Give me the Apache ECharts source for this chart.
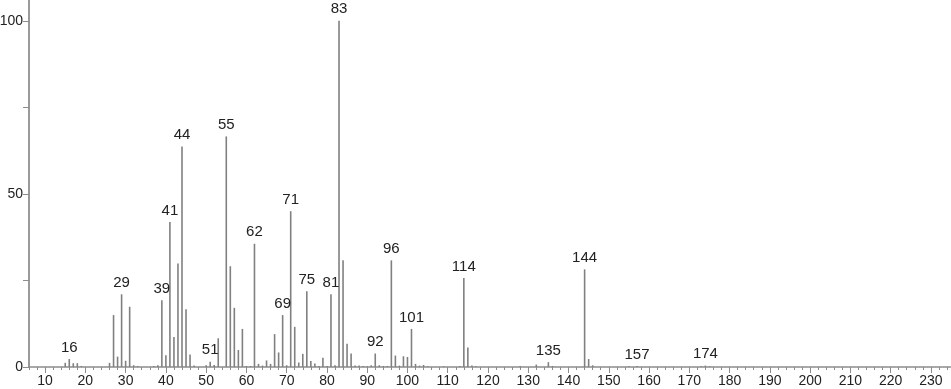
<!DOCTYPE html>
<html>
<head>
<meta charset="utf-8">
<script src="https://cdn.jsdelivr.net/npm/echarts@6/dist/echarts.min.js"></script>
<style>
html,body{margin:0;padding:0;background:#fff;}
#chart{width:951px;height:389px;}
</style>
</head>
<body>
<div id="chart"></div>
<script>
const mzValues = [15,16,17,18,19,26,27,28,29,30,31,32,33,37,38,39,40,41,42,43,44,45,46,47,50,51,52,53,55,56,57,58,59,60,61,62,63,64,65,66,67,68,69,70,71,72,73,74,75,76,77,78,79,80,81,82,83,84,85,86,87,88,89,90,91,92,93,94,95,96,97,98,99,100,101,102,103,104,105,109,113,114,115,116,117,128,132,135,136,144,145,146,155,157,173,174,175];
const intensities = [1.2,2.3,1.1,1.1,0.3,1.2,15.0,3.0,21.0,1.8,17.4,0.5,0.3,0.3,0.5,19.3,3.4,41.9,8.7,29.9,63.7,16.7,3.6,0.4,0.5,1.5,0.6,8.3,66.6,29.1,17.1,4.9,11.0,0.3,0.3,35.6,0.9,0.4,1.9,0.9,9.5,4.2,15.0,0.5,45.0,11.6,1.3,3.8,21.9,1.7,1.0,0.3,2.7,0.3,21.0,0.5,100,30.8,6.7,3.9,0.4,0.4,0.3,0.2,0.5,3.9,0.5,0.3,0.3,30.8,3.3,0.4,3.1,2.9,11.0,0.9,0.4,0.6,0.2,0.2,0.3,25.7,5.6,0.4,0.2,0.3,0.7,1.4,0.3,28.2,2.3,0.5,0.2,0.3,0.2,0.4,0.2];
const labeledPeaks = [16,29,39,41,44,51,55,62,69,71,75,81,83,92,96,101,114,135,144,157,174];
const xMajorTicks = [10,20,30,40,50,60,70,80,90,100,110,120,130,140,150,160,170,180,190,200,210,220,230];
const yTicks = [0,25,50,75,100];
const yLabels = [0,50,100];

const xMinorTicks = [];
for (let v = 6; v <= 234; v += 2) xMinorTicks.push(v);

const FONT = 'Liberation Sans';
const seriesData = mzValues.map((m, i) => ({
  value: [m, intensities[i]],
  label: { show: labeledPeaks.indexOf(m) >= 0 }
}));

const chart = echarts.init(document.getElementById('chart'), null, {renderer: 'canvas'});
chart.setOption({
  animation: false,
  backgroundColor: '#ffffff',
  grid: { left: 29, right: 0, top: 0, bottom: 22, containLabel: false, outerBoundsMode: 'none' },
  xAxis: [{
    type: 'value', min: 6, max: 235, position: 'bottom',
    axisLine: { show: true, onZero: false, lineStyle: { color: '#8c8c8c', width: 1.5 } },
    axisTick: { show: true, customValues: xMinorTicks, length: 3, lineStyle: { color: '#8c8c8c', width: 1 } },
    axisLabel: { show: false },
    splitLine: { show: false }
  }, {
    type: 'value', min: 6, max: 235, position: 'bottom', offset: 0,
    axisLine: { show: false },
    axisTick: { show: true, customValues: xMajorTicks, length: 6, lineStyle: { color: '#8c8c8c', width: 1 } },
    axisLabel: { show: true, customValues: xMajorTicks, margin: 7, fontFamily: FONT, fontSize: 14, color: '#222' },
    splitLine: { show: false }
  }],
  yAxis: {
    type: 'value', min: 0, max: 106,
    axisLine: { show: true, lineStyle: { color: '#9a9a9a', width: 2 } },
    axisTick: { show: true, customValues: yTicks, length: 6, lineStyle: { color: '#8c8c8c', width: 1 } },
    axisLabel: { show: true, customValues: yLabels, margin: 6, fontFamily: FONT, fontSize: 14, color: '#222' },
    splitLine: { show: false }
  },
  series: [{
    type: 'bar',
    xAxisIndex: 0,
    barWidth: 1.6,
    itemStyle: { color: '#808080' },
    label: { show: false, position: 'top', distance: 4, fontFamily: FONT, fontSize: 15, color: '#222',
      formatter: p => String(p.value[0]) },
    data: seriesData
  }]
});
</script>
</body>
</html>
